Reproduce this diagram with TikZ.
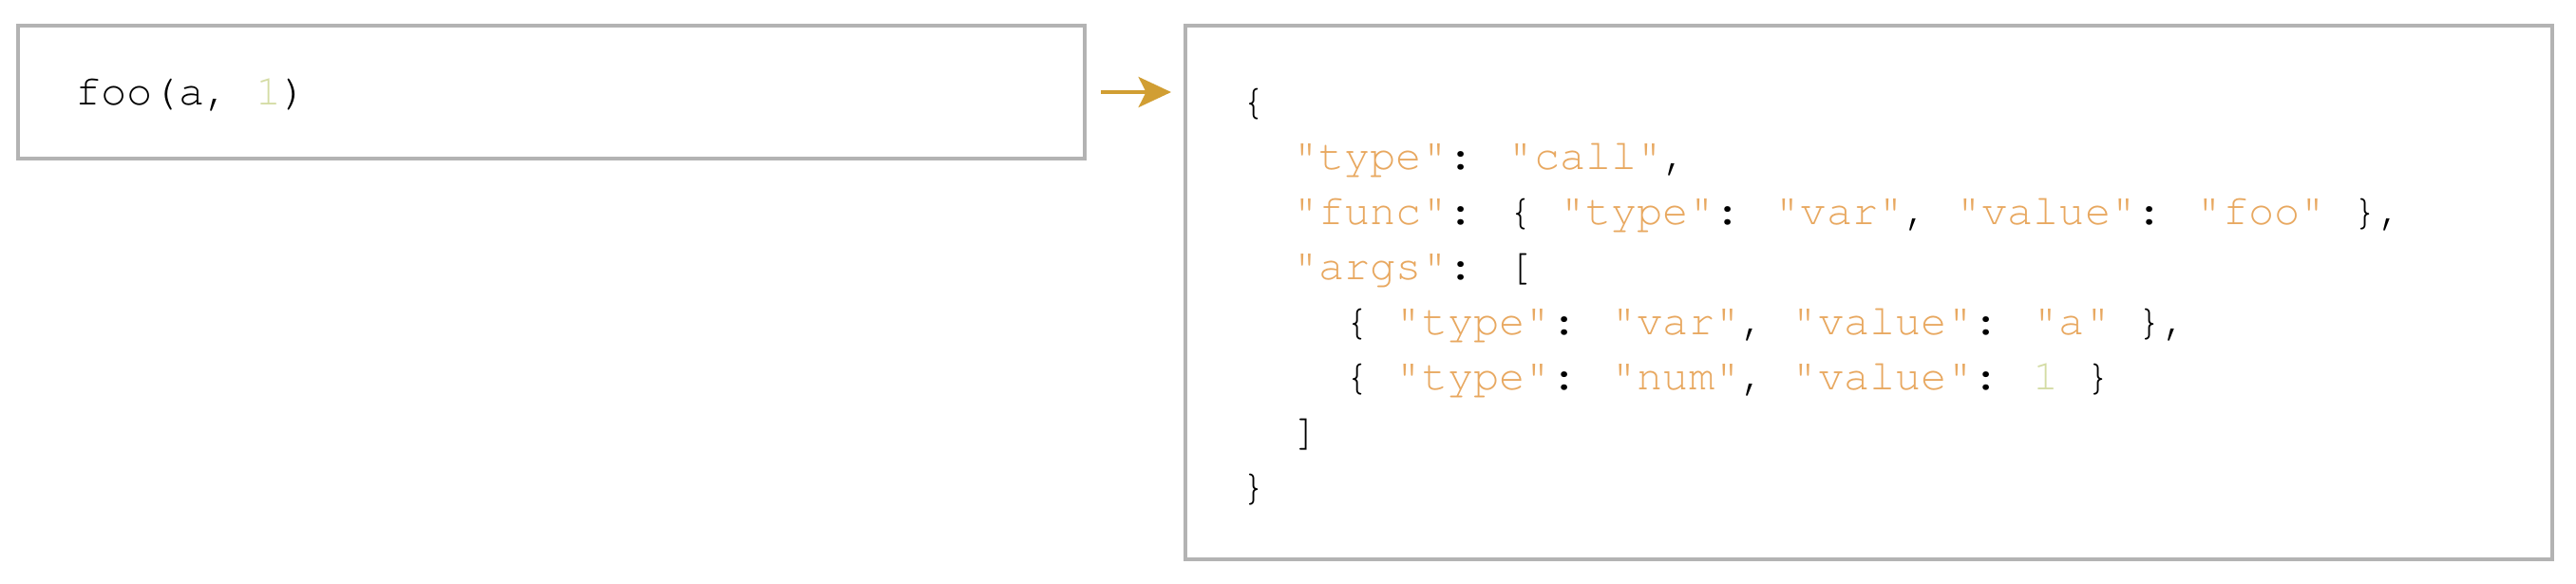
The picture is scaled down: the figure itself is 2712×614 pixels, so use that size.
\documentclass[tikz,border=0pt]{standalone}
\usepackage{fontspec}
\usetikzlibrary{arrows.meta}
\newfontfamily\codefont{TeX Gyre Cursor}
\definecolor{boxgray}{HTML}{B3B3B3}
\definecolor{strc}{HTML}{E8A860}
\definecolor{numc}{HTML}{D4DCA4}
\definecolor{arrc}{HTML}{D19E33}
\newcommand\js[1]{\textcolor{strc}{#1}}
\newcommand\jn[1]{\textcolor{numc}{#1}}
\begin{document}
\begin{tikzpicture}[x=0.25pt,y=-0.25pt,
  box/.style={draw=boxgray, line width=1pt, inner sep=0pt, fill=white},
  codeline/.style={anchor=base west, inner sep=0pt, font=\codefont\fontsize{11.33pt}{14.5pt}\selectfont},
  arr/.style={draw=arrc, line width=0.9pt, -{Stealth[length=8.6pt,width=8pt,inset=2pt]}, shorten <=3.75pt, shorten >=3.25pt}]
\useasboundingbox[fill=white] (0,0) rectangle (2712,614);
\node[box, minimum width=280.75pt, minimum height=35pt] (lbox) at (580.5,97) {};
\node[box, minimum width=359.75pt, minimum height=140.5pt] (rbox) at (1967.5,308) {};
\node[codeline] (src) at (78.5,110) {foo(a, \jn{1})};
\node[codeline] (l0) at (1306,120) {\{};
\node[codeline] (l1) at (1360.4,178) {\js{"type"}: \js{"call"},};
\node[codeline] (l2) at (1360.4,236) {\js{"func"}: \{ \js{"type"}: \js{"var"}, \js{"value"}: \js{"foo"} \},};
\node[codeline] (l3) at (1360.4,294) {\js{"args"}: [};
\node[codeline] (l4) at (1414.8,352) {\{ \js{"type"}: \js{"var"}, \js{"value"}: \js{"a"} \},};
\node[codeline] (l5) at (1414.8,410) {\{ \js{"type"}: \js{"num"}, \js{"value"}: \jn{1} \}};
\node[codeline] (l6) at (1360.4,468) {]};
\node[codeline] (l7) at (1306,526) {\}};
\draw[arr] (lbox.east) -- (lbox.east -| rbox.west);
\end{tikzpicture}
\end{document}
